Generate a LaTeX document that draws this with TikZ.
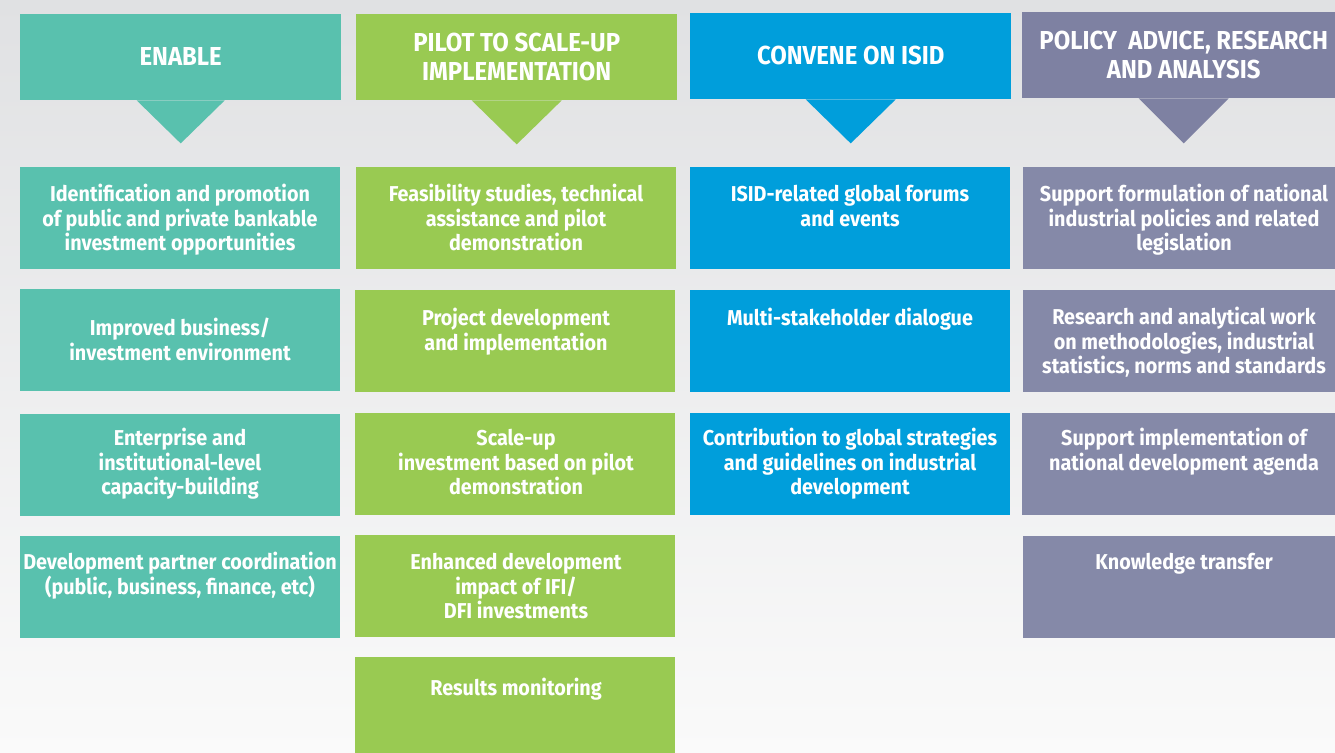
\documentclass[tikz,border=0pt]{standalone}
\usepackage{fontspec}
\setmainfont{Fira Sans}[FakeStretch=0.92]
\definecolor{cteal}{RGB}{89,193,174}
\definecolor{cgreen}{RGB}{153,202,82}
\definecolor{cblue}{RGB}{0,158,219}
\definecolor{cpurp}{RGB}{126,129,162}
\definecolor{cpurpb}{RGB}{133,137,168}
\definecolor{bgtop}{RGB}{224,225,227}
\definecolor{bgbot}{RGB}{250,250,250}
\begin{document}
\begin{tikzpicture}[x=1pt,y=-1pt,
  hdr/.style={rectangle, inner sep=0, anchor=north west, minimum width=321pt, minimum height=86pt},
  box/.style={rectangle, inner sep=0, anchor=north west, minimum width=320pt, minimum height=102pt},
  htxt/.style={text=white, font=\bfseries\fontsize{26}{29}\selectfont, align=center, inner sep=0},
  btxt/.style={text=white, font=\bfseries\fontsize{21.5}{24.5}\selectfont, align=center, inner sep=0, anchor=base, yshift=-1.5pt},
]
\useasboundingbox (0,0) rectangle (1335,752);
\shade[top color=bgtop, bottom color=bgbot] (0,0) rectangle (1335,752);

% headers
\node[hdr, fill=cteal] (h1) at (20,14) {};
\node[hdr, fill=cgreen] (h2) at (356,14) {};
\node[hdr, fill=cblue] (h3) at (690,13) {};
\node[hdr, fill=cpurp, minimum width=323pt] (h4) at (1022,12) {};
\fill[cteal] ([xshift=-44pt]h1.south) -- ([xshift=44pt]h1.south) -- ([yshift=-43pt]h1.south) -- cycle;
\fill[cgreen] ([xshift=-45pt]h2.south) -- ([xshift=45pt]h2.south) -- ([yshift=-44pt]h2.south) -- cycle;
\fill[cblue] ([xshift=-45pt]h3.south) -- ([xshift=45pt]h3.south) -- ([yshift=-44pt]h3.south) -- cycle;
\fill[cpurp] ([xshift=-45pt]h4.south) -- ([xshift=45pt]h4.south) -- ([yshift=-45pt]h4.south) -- cycle;
\node[htxt, yshift=0.8pt] at (h1.center) {ENABLE};
\node[htxt] at (h2.center) {PILOT TO SCALE-UP\\IMPLEMENTATION};
\node[htxt, yshift=0.8pt] at (h3.center) {CONVENE ON ISID};
\node[htxt] at (h4.center) {POLICY\ \ ADVICE, RESEARCH\\AND ANALYSIS};

% column 1
\node[box, fill=cteal] (a1) at (20,167) {};
\node[box, fill=cteal] (a2) at (20,289) {};
\node[box, fill=cteal] (a3) at (20,414) {};
\node[box, fill=cteal] (a4) at (20,536) {};
% column 2
\node[box, fill=cgreen] (b1) at (356,167) {};
\node[box, fill=cgreen] (b2) at (355,290) {};
\node[box, fill=cgreen] (b3) at (355,413) {};
\node[box, fill=cgreen] (b4) at (355,535) {};
\node[box, fill=cgreen, minimum height=110pt] (b5) at (355,657) {};
% column 3
\node[box, fill=cblue] (c1) at (690,167) {};
\node[box, fill=cblue] (c2) at (690,290) {};
\node[box, fill=cblue] (c3) at (690,413) {};
% column 4
\node[box, fill=cpurpb, minimum width=322pt] (d1) at (1023,167) {};
\node[box, fill=cpurpb, minimum width=322pt] (d2) at (1023,290) {};
\node[box, fill=cpurpb, minimum width=322pt] (d3) at (1022,413) {};
\node[box, fill=cpurpb, minimum width=322pt] (d4) at (1023,536) {};

% texts (base = last baseline)
\node[btxt] at (180,249) {Identification and promotion\\of public and private bankable\\investment opportunities};
\node[btxt] at (180,358.5) {Improved business/\\investment environment};
\node[btxt] at (180,493) {Enterprise and\\institutional-level\\capacity-building};
\node[btxt] at (180,592.5) {Development partner coordination\\(public, business, finance, etc)};

\node[btxt] at (516,249) {Feasibility studies, technical\\assistance and pilot\\demonstration};
\node[btxt] at (516,348.5) {Project development\\and implementation};
\node[btxt] at (516,493) {Scale-up\\investment based on pilot\\demonstration};
\node[btxt] at (516,617) {Enhanced development\\impact of IFI/\\DFI investments};
\node[btxt] at (516,694) {Results monitoring};

\node[btxt] at (850,224.5) {ISID-related global forums\\and events};
\node[btxt] at (850,324) {Multi-stakeholder dialogue};
\node[btxt] at (850,493) {Contribution to global strategies\\and guidelines on industrial\\development};

\node[btxt] at (1184,249) {Support formulation of national\\industrial policies and related\\legislation};
\node[btxt] at (1184,372) {Research and analytical work\\on methodologies, industrial\\statistics, norms and standards};
\node[btxt] at (1184,468.5) {Support implementation of\\national development agenda};
\node[btxt] at (1184,568) {Knowledge transfer};
\end{tikzpicture}
\end{document}
